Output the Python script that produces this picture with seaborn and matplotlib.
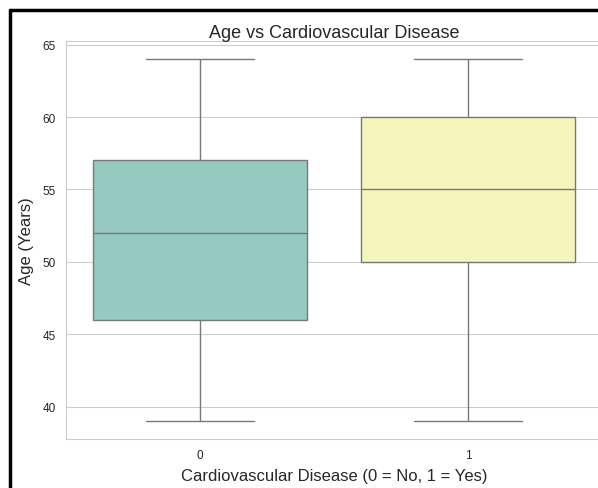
import matplotlib
matplotlib.use("Agg")
import matplotlib.pyplot as plt
from matplotlib.lines import Line2D
import seaborn as sns
import pandas as pd

# summary values (min, q1, median, q3, max)
age_no_cvd = [39, 46, 52, 57, 64]
age_cvd = [39, 50, 55, 60, 64]
groups = ["0", "1"]

df = pd.DataFrame({
    "cardio": [groups[0]] * len(age_no_cvd) + [groups[1]] * len(age_cvd),
    "age": age_no_cvd + age_cvd,
})

sns.set_style("whitegrid")
plt.rcParams["font.family"] = ["Liberation Sans", "DejaVu Sans"]

fig = plt.figure(figsize=(5.98, 4.89), dpi=100)
ax = fig.add_axes([0.110, 0.100, 0.897, 0.814])

sns.boxplot(data=df, x="cardio", y="age", hue="cardio", palette="Set3",
            legend=False, ax=ax, width=0.8, linecolor="0.47", linewidth=1.0)

ax.set_title("Age vs Cardiovascular Disease", fontsize=13, pad=3)
ax.set_xlabel("Cardiovascular Disease (0 = No, 1 = Yes)", fontsize=12, labelpad=5)
ax.set_ylabel("Age (Years)", fontsize=12, labelpad=6)
ax.tick_params(labelsize=8.5)

# black frame of the screenshot (left and top edges)
fig.add_artist(Line2D([0.016, 0.016], [0, 0.978], color="black", lw=2.5,
                      transform=fig.transFigure))
fig.add_artist(Line2D([0.016, 1.0], [0.978, 0.978], color="black", lw=2.5,
                      transform=fig.transFigure))

fig.savefig("out.png", dpi=100)
